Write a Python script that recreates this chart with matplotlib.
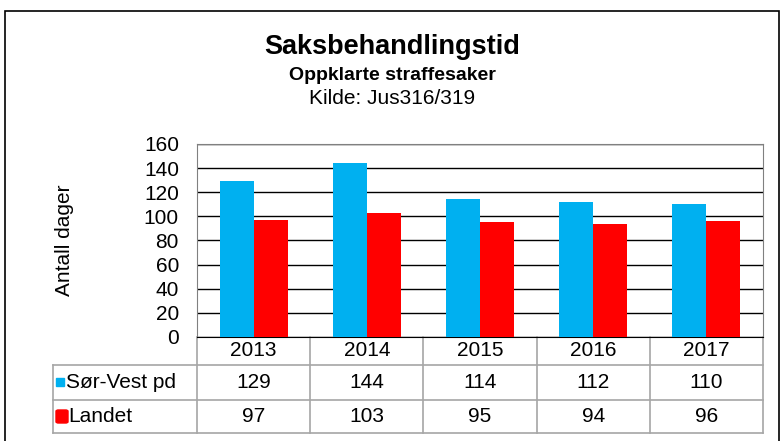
import matplotlib.pyplot as plt
from matplotlib.patches import Rectangle, FancyBboxPatch
from matplotlib.transforms import blended_transform_factory

years = ["2013", "2014", "2015", "2016", "2017"]
series_names = ["Sør-Vest pd", "Landet"]
sorvest = [129, 144, 114, 112, 110]
landet = [97, 103, 95, 94, 96]
colors = ["#00B0F0", "#FF0000"]

plt.rcParams["font.family"] = ["Liberation Sans", "DejaVu Sans"]

W, H = 784, 441
fig = plt.figure(figsize=(W / 100, H / 100), dpi=100)

# plot area in pixel coordinates
left, right, top, bottom = 197, 763, 144, 337
ax = fig.add_axes([left / W, 1 - bottom / H, (right - left) / W, (bottom - top) / H])

x = list(range(len(years)))
bw = 0.3
ax.bar([i - bw / 2 for i in x], sorvest, width=bw, color=colors[0], zorder=3)
ax.bar([i + bw / 2 for i in x], landet, width=bw, color=colors[1], zorder=3)

ax.set_xlim(-0.5, len(years) - 0.5)
ax.set_ylim(0, 160)
ax.set_yticks(range(0, 161, 20))
ax.set_xticks([])
ax.tick_params(axis="y", length=0, pad=13, labelsize=15)
ax.yaxis.grid(True, color="black", linewidth=1.0, zorder=0)
for s in ["top", "left", "right"]:
    ax.spines[s].set_color("#808080")
ax.spines["bottom"].set_color("black")
ax.set_ylabel("Antall dager", fontsize=15, labelpad=50)

# data table below the plot
ph = bottom - top
rows_px = [0, 28, 63, 96]
rows = [-r / ph for r in rows_px]
tr = blended_transform_factory(ax.transData, ax.transAxes)
gray = "#A6A6A6"
lw = 1.2
xl = -0.5 - (left - 53) / (right - left) * len(years)

# horizontal lines
ax.plot([xl, 4.5], [rows[1]] * 2, transform=tr, color=gray, lw=lw, clip_on=False)
ax.plot([xl, 4.5], [rows[2]] * 2, transform=tr, color=gray, lw=lw, clip_on=False)
ax.plot([xl, 4.5], [rows[3]] * 2, transform=tr, color=gray, lw=lw, clip_on=False)
# vertical lines
for b in [i - 0.5 for i in range(len(years) + 1)]:
    ax.plot([b, b], [rows[0], rows[3]], transform=tr, color=gray, lw=lw, clip_on=False)
ax.plot([xl, xl], [rows[1], rows[3]], transform=tr, color=gray, lw=lw, clip_on=False)

def mid(a, b):
    return (rows[a] + rows[b]) / 2

for i, yr in enumerate(years):
    ax.text(i, mid(0, 1), yr, transform=tr, ha="center", va="center", fontsize=15)
    ax.text(i, mid(1, 2), str(sorvest[i]), transform=tr, ha="center", va="center", fontsize=15)
    ax.text(i, mid(2, 3), str(landet[i]), transform=tr, ha="center", va="center", fontsize=15)

# legend keys in table
fig.patches.append(Rectangle((56 / W, 1 - 386 / H), 8 / W, 8 / H, transform=fig.transFigure,
                             color=colors[0]))
fig.patches.append(FancyBboxPatch((56 / W, 1 - 423 / H), 12 / W, 13 / H, transform=fig.transFigure,
                                  boxstyle="round,pad=0,rounding_size=0.003", color=colors[1]))
fig.text(66 / W, 1 - 382 / H, series_names[0], ha="left", va="center", fontsize=15)
fig.text(68 / W, 1 - 416 / H, series_names[1], ha="left", va="center", fontsize=15)

# titles
fig.text(0.5, 1 - 47 / H, "Saksbehandlingstid", ha="center", va="center", fontsize=19.5, fontweight="bold")
fig.text(0.5, 1 - 75 / H, "Oppklarte straffesaker", ha="center", va="center", fontsize=14, fontweight="bold")
fig.text(0.5, 1 - 99 / H, "Kilde: Jus316/319", ha="center", va="center", fontsize=15)

# outer border
fig.patches.append(Rectangle((5 / W, -0.05), 774 / W, 1 - 11 / H + 0.05, transform=fig.transFigure,
                             fill=False, edgecolor="black", lw=1.2))

fig.savefig("out.png", dpi=100)
